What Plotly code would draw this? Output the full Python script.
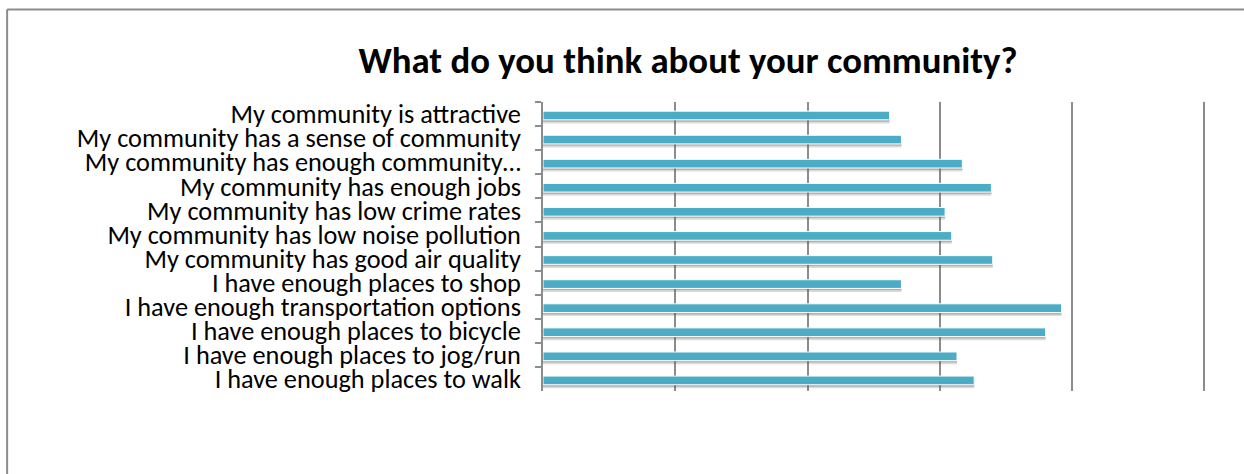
import plotly.graph_objects as go

categories = [
    "My community is attractive",
    "My community has a sense of community",
    "My community has enough community…",
    "My community has enough jobs",
    "My community has low crime rates",
    "My community has low noise pollution",
    "My community has good air quality",
    "I have enough places to shop",
    "I have enough transportation options",
    "I have enough places to bicycle",
    "I have enough places to jog/run",
    "I have enough places to walk",
]
values = [2.62, 2.71, 3.17, 3.39, 3.04, 3.09, 3.40, 2.71, 3.92, 3.80, 3.13, 3.26]
x_gridlines = [0, 1, 2, 3, 4, 5]
x_range = [0, 5.02]

W, H = 1244, 474
L, T, B = 543, 102, 83
unit = 132.3
pw = (x_range[1] - x_range[0]) * unit
R = W - L - pw
ph = H - T - B

def px_x(px):
    return (px - L) / pw

def px_y(py):
    return (H - B - py) / ph

fig = go.Figure()
bw = 0.36
shift = 0.06
fig.add_trace(go.Bar(
    y=categories, x=values, orientation="h",
    width=bw, offset=-bw / 2 + shift + 0.15,
    marker=dict(color="rgba(90,90,90,0.22)", line=dict(width=0)),
    hoverinfo="skip", showlegend=False,
))
fig.add_trace(go.Bar(
    y=categories, x=values, orientation="h",
    width=bw, offset=-bw / 2 + shift + 0.08,
    marker=dict(color="rgba(90,90,90,0.33)", line=dict(width=0)),
    hoverinfo="skip", showlegend=False,
))
fig.add_trace(go.Bar(
    y=categories, x=values, orientation="h",
    width=bw, offset=-bw / 2 + shift,
    marker=dict(color="#4BACC6", line=dict(color="white", width=1)),
    showlegend=False,
))

fig.update_layout(
    width=W, height=H,
    margin=dict(l=L, r=R, t=T, b=B, autoexpand=False),
    paper_bgcolor="white", plot_bgcolor="white",
    barmode="overlay",
    title=dict(
        text="<b>What do you think about your community?</b>",
        x=688 / W, xref="container", xanchor="center",
        y=1 - 60 / H, yref="container", yanchor="middle",
        font=dict(family="Carlito, Lato, sans-serif", size=36.8, color="black"),
    ),
    xaxis=dict(
        range=x_range, tickvals=x_gridlines, showticklabels=False,
        showgrid=True, gridcolor="#8c8c8c", gridwidth=1.6,
        zeroline=False, showline=False, ticks="",
        fixedrange=True,
    ),
    yaxis=dict(
        autorange="reversed", type="category",
        tickmode="linear", tick0=0, dtick=1,
        showline=True, linecolor="#8c8c8c", linewidth=1.6,
        ticks="outside", tickson="boundaries", ticklen=6,
        tickcolor="#8c8c8c", tickwidth=1.6,
        ticklabelstandoff=15,
        tickfont=dict(family="Carlito, Lato, sans-serif", size=26.3, color="black"),
        showgrid=False, zeroline=False, fixedrange=True,
    ),
    shapes=[
        dict(type="line", xref="paper", yref="paper",
             x0=px_x(7), x1=px_x(W + 5), y0=px_y(9.5), y1=px_y(9.5),
             line=dict(color="#8c8c8c", width=2)),
        dict(type="line", xref="paper", yref="paper",
             x0=px_x(7), x1=px_x(7), y0=px_y(9.5), y1=px_y(H + 5),
             line=dict(color="#8c8c8c", width=2)),
    ],
)

fig.write_html(
    "out.html",
    config={"displayModeBar": False},
    post_script="document.body.style.margin='0';document.body.style.overflow='hidden';",
)
